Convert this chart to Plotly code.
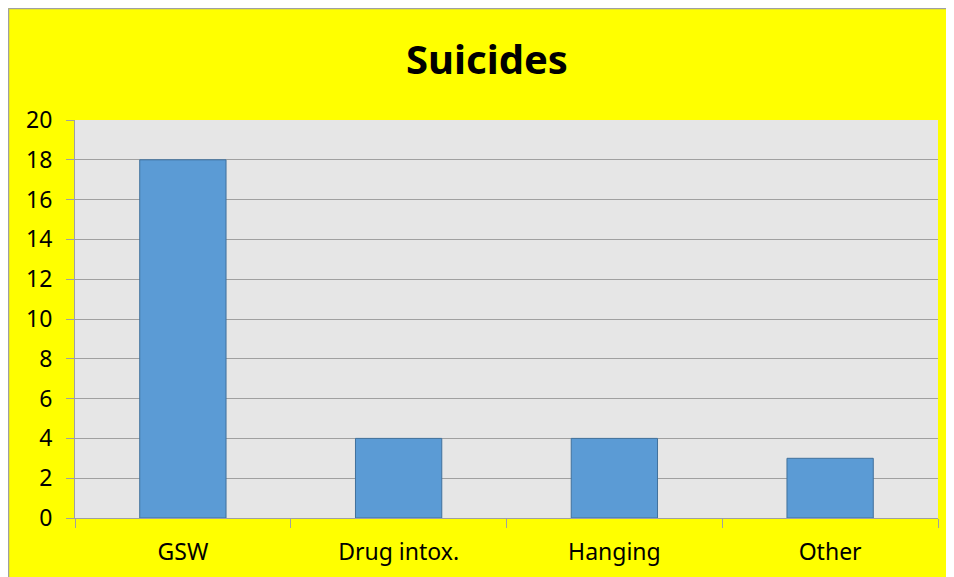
import plotly.graph_objects as go

categories = ["GSW", "Drug intox.", "Hanging", "Other"]
values = [18, 4, 4, 3]
y_ticks = list(range(0, 21, 2))

W, H = 954, 577
L, R, T, B = 67, 24, 112, 67
pw, ph = W - L - R, H - T - B

def px_x(x):
    return (x - L) / pw

def px_y(y):
    return (H - B - y) / ph

fig = go.Figure(go.Bar(
    x=categories, y=values, width=0.4,
    marker=dict(color="#5B9BD5", line=dict(color="#41719C", width=1)),
))

font = "Noto Sans, sans-serif"
fig.update_layout(
    width=W, height=H,
    margin=dict(l=L, r=R, t=T, b=B),
    paper_bgcolor="#FFFF00",
    plot_bgcolor="#E6E6E6",
    showlegend=False,
    title=dict(text="<b>Suicides</b>", x=479 / W, xanchor="center", xref="container",
               y=1 - 52 / H, yanchor="middle", yref="container",
               font=dict(family=font, size=40, color="#000000")),
    xaxis=dict(type="category", tickson="boundaries", ticks="outside", ticklen=9,
               tickcolor="#A0A0A0", showgrid=False, showline=True, linecolor="#A0A0A0",
               linewidth=1, tickfont=dict(family=font, size=23, color="#000000"),
               ticklabelstandoff=13, fixedrange=True),
    yaxis=dict(range=[0, 20], tickvals=y_ticks, ticks="outside", ticklen=8,
               tickcolor="#A0A0A0", showgrid=True, gridcolor="#A0A0A0", gridwidth=1,
               showline=True, linecolor="#A0A0A0", linewidth=1, zeroline=False,
               tickfont=dict(family=font, size=23, color="#000000"),
               ticklabelstandoff=9, fixedrange=True),
    shapes=[
        dict(type="line", xref="paper", yref="paper", x0=px_x(0.5), x1=px_x(W),
             y0=px_y(0.5), y1=px_y(0.5), line=dict(color="#A0A0A0", width=1.5)),
        dict(type="line", xref="paper", yref="paper", x0=px_x(0.5), x1=px_x(0.5),
             y0=px_y(0.5), y1=px_y(H), line=dict(color="#A0A0A0", width=1.5)),
    ],
)

fig.write_html("out.html", config={"displayModeBar": False})
